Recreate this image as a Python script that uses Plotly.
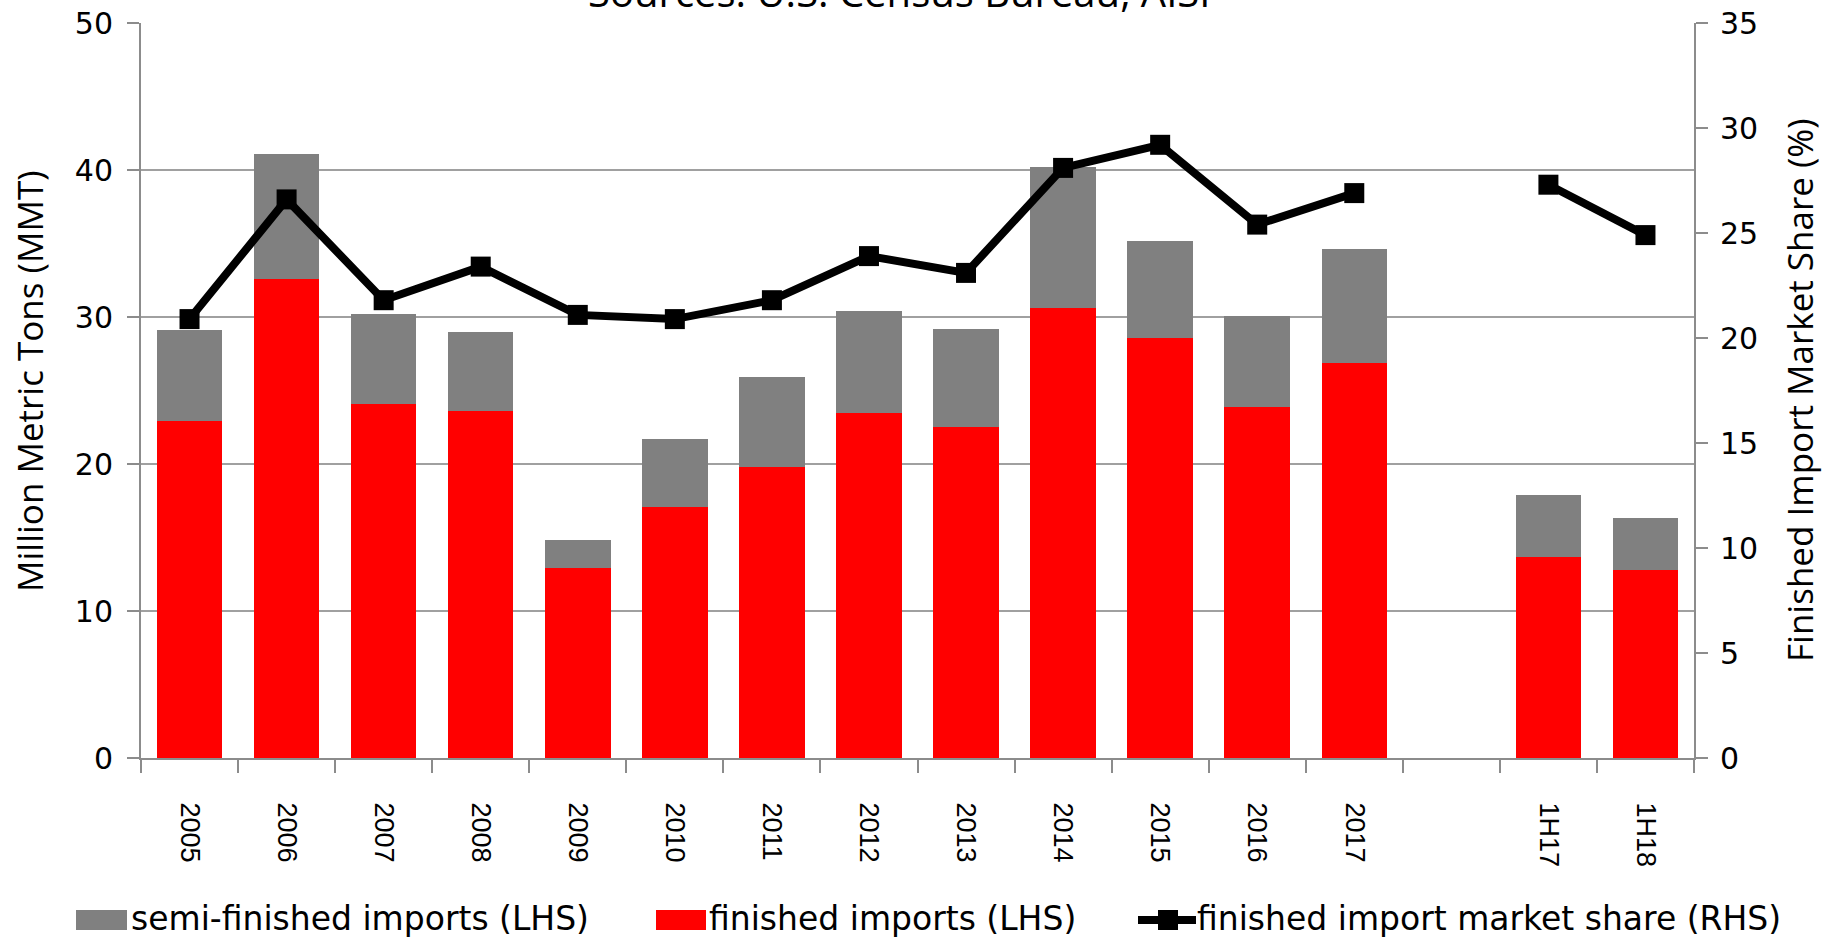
import plotly.graph_objects as go

categories = ["2005", "2006", "2007", "2008", "2009", "2010", "2011", "2012",
              "2013", "2014", "2015", "2016", "2017", " ", "1H17", "1H18"]
finished = [22.9, 32.6, 24.1, 23.6, 12.9, 17.1, 19.8, 23.5,
            22.5, 30.6, 28.6, 23.9, 26.9, None, 13.7, 12.8]
total = [29.1, 41.1, 30.2, 29.0, 14.8, 21.7, 25.9, 30.4,
         29.2, 40.2, 35.2, 30.1, 34.6, None, 17.9, 16.3]
semi_finished = [None if t is None else round(t - f, 2) for t, f in zip(total, finished)]
market_share = [20.9, 26.6, 21.8, 23.4, 21.1, 20.9, 21.8, 23.9,
                23.1, 28.1, 29.2, 25.4, 26.9, None, 27.3, 24.9]

W, H = 1831, 940
L, R, T, B = 141, 1694, 23, 758
PW, PH = R - L, B - T


def px(x):
    return (x - L) / PW


def py(y):
    return (B - y) / PH


fig = go.Figure()
fig.add_trace(go.Bar(x=categories, y=finished, name="finished imports (LHS)",
                     marker=dict(color="#ff0000", line=dict(width=0))))
fig.add_trace(go.Bar(x=categories, y=semi_finished, name="semi-finished imports (LHS)",
                     marker=dict(color="#808080", line=dict(width=0))))
fig.add_trace(go.Scatter(x=categories, y=market_share, yaxis="y2",
                         name="finished import market share (RHS)",
                         mode="lines+markers",
                         line=dict(color="#000000", width=8),
                         marker=dict(symbol="square", size=20, color="#000000"),
                         connectgaps=False))

tickfont = dict(family="DejaVu Sans", size=30, color="#000000")
fig.update_layout(
    width=W, height=H,
    margin=dict(l=L, r=W - R, t=T, b=H - B, autoexpand=False),
    paper_bgcolor="white", plot_bgcolor="white",
    barmode="stack", bargap=0.325,
    showlegend=False,
    xaxis=dict(type="category", range=[-0.5, len(categories) - 0.5],
               tickangle=90, tickson="boundaries",
               ticks="outside", ticklen=13, tickwidth=2, tickcolor="#8c8c8c",
               showline=True, linecolor="#8c8c8c", linewidth=2,
               showgrid=False, ticklabelstandoff=37, automargin=False,
               tickfont=dict(family="Liberation Sans", size=27, color="#000000")),
    yaxis=dict(range=[0, 50], dtick=10, ticks="outside", ticklen=12, tickwidth=2,
               tickcolor="#8c8c8c", showline=True, linecolor="#8c8c8c", linewidth=2,
               showgrid=True, gridcolor="#a0a0a0", gridwidth=2, zeroline=False,
               tickfont=tickfont, ticklabelstandoff=8, automargin=False,
               ticklabeloverflow="allow"),
    yaxis2=dict(range=[0, 35], dtick=5, overlaying="y", side="right",
                ticks="outside", ticklen=12, tickwidth=2, tickcolor="#8c8c8c",
                showline=True, linecolor="#8c8c8c", linewidth=2,
                showgrid=False, zeroline=False, tickfont=tickfont,
                ticklabelstandoff=6, automargin=False, ticklabeloverflow="allow"),
)

titlefont = dict(family="Open Sans", size=35, color="#000000")
annotations = [
    dict(text="Sources: U.S. Census Bureau, AISI", x=px(899), y=py(-9),
         xref="paper", yref="paper", showarrow=False, xanchor="center",
         yanchor="middle", font=dict(family="Open Sans", size=40, color="#000000")),
    dict(text="Million Metric Tons (MMT)", x=px(29), y=py(381), xref="paper",
         yref="paper", showarrow=False, textangle=-90, xanchor="center",
         yanchor="middle", font=titlefont),
    dict(text="Finished Import Market Share (%)", x=px(1800), y=py(390),
         xref="paper", yref="paper", showarrow=False, textangle=-90,
         xanchor="center", yanchor="middle", font=titlefont),
]

legend_font = dict(family="DejaVu Sans", size=33, color="#000000")
shapes = [
    dict(type="rect", xref="paper", yref="paper", x0=px(76), x1=px(127),
         y0=py(910), y1=py(930), fillcolor="#808080", line=dict(width=0)),
    dict(type="rect", xref="paper", yref="paper", x0=px(656), x1=px(706),
         y0=py(910), y1=py(930), fillcolor="#ff0000", line=dict(width=0)),
    dict(type="line", xref="paper", yref="paper", x0=px(1138), x1=px(1196),
         y0=py(920), y1=py(920), line=dict(color="#000000", width=8)),
    dict(type="rect", xref="paper", yref="paper", x0=px(1158), x1=px(1178),
         y0=py(910), y1=py(930), fillcolor="#000000", line=dict(width=0)),
]
for label, x0 in [("semi-finished imports (LHS)", 131),
                  ("finished imports (LHS)", 709),
                  ("finished import market share (RHS)", 1197)]:
    annotations.append(dict(text=label, x=px(x0), y=py(918), xref="paper",
                            yref="paper", showarrow=False, xanchor="left",
                            yanchor="middle", font=legend_font, xshift=-2))

fig.update_layout(annotations=annotations, shapes=shapes)
fig.write_html("out.html", config={"displayModeBar": False},
               post_script="document.body.style.margin='0';"
                           "document.body.style.overflow='hidden';")
